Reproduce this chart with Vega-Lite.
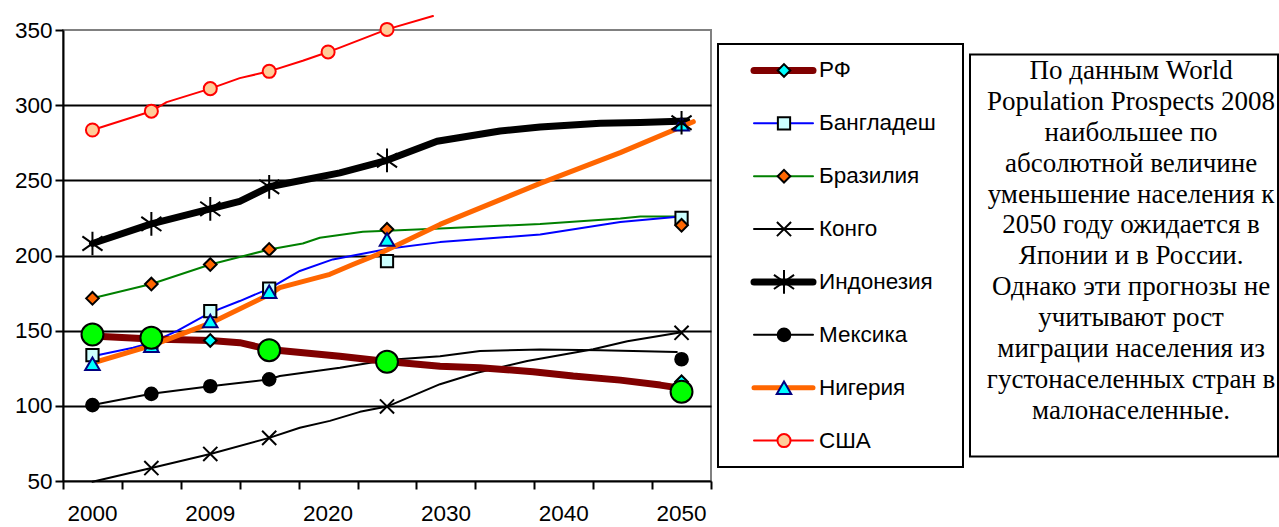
{
  "$schema": "https://vega.github.io/schema/vega-lite/v6.json",
  "background": "white",
  "padding": {"left": 13, "top": 14, "right": 0, "bottom": 0},
  "datasets": {
    "lines": [
      {"series": "Конго", "pos": 0, "value": 49.5}, {"series": "Конго", "pos": 1, "value": 58.6}, {"series": "Конго", "pos": 2, "value": 68}, {"series": "Конго", "pos": 3, "value": 78.7}, {"series": "Конго", "pos": 3.52, "value": 85.4}, {"series": "Конго", "pos": 4.03, "value": 90}, {"series": "Конго", "pos": 4.54, "value": 96}, {"series": "Конго", "pos": 5, "value": 99.5}, {"series": "Конго", "pos": 5.9, "value": 114.4}, {"series": "Конго", "pos": 6.53, "value": 122}, {"series": "Конго", "pos": 7.38, "value": 129.8}, {"series": "Конго", "pos": 8.5, "value": 137.6}, {"series": "Конго", "pos": 9.08, "value": 143}, {"series": "Конго", "pos": 10, "value": 149},
      {"series": "Мексика", "pos": 0, "value": 100.5}, {"series": "Мексика", "pos": 1, "value": 108}, {"series": "Мексика", "pos": 2, "value": 113}, {"series": "Мексика", "pos": 3, "value": 117.6}, {"series": "Мексика", "pos": 3.18, "value": 119.8}, {"series": "Мексика", "pos": 4.2, "value": 125.3}, {"series": "Мексика", "pos": 5, "value": 130.5}, {"series": "Мексика", "pos": 5.9, "value": 133}, {"series": "Мексика", "pos": 6.58, "value": 136.4}, {"series": "Мексика", "pos": 7.6, "value": 137.5}, {"series": "Мексика", "pos": 8.62, "value": 136.9}, {"series": "Мексика", "pos": 9.92, "value": 135.8},
      {"series": "Бразилия", "pos": 0, "value": 171.5}, {"series": "Бразилия", "pos": 1, "value": 181}, {"series": "Бразилия", "pos": 2, "value": 194}, {"series": "Бразилия", "pos": 3, "value": 204}, {"series": "Бразилия", "pos": 3.57, "value": 208}, {"series": "Бразилия", "pos": 3.86, "value": 211.8}, {"series": "Бразилия", "pos": 4.59, "value": 215.8}, {"series": "Бразилия", "pos": 5, "value": 216.5}, {"series": "Бразилия", "pos": 5.9, "value": 218}, {"series": "Бразилия", "pos": 7.6, "value": 221}, {"series": "Бразилия", "pos": 8.96, "value": 224.6}, {"series": "Бразилия", "pos": 9.3, "value": 226}, {"series": "Бразилия", "pos": 10.03, "value": 226},
      {"series": "Бангладеш", "pos": 0, "value": 133}, {"series": "Бангладеш", "pos": 0.69, "value": 138.6}, {"series": "Бангладеш", "pos": 1, "value": 142}, {"series": "Бангладеш", "pos": 1.43, "value": 149.7}, {"series": "Бангладеш", "pos": 2, "value": 162}, {"series": "Бангладеш", "pos": 2.5, "value": 169.7}, {"series": "Бангладеш", "pos": 3, "value": 178}, {"series": "Бангладеш", "pos": 3.52, "value": 189.7}, {"series": "Бангладеш", "pos": 4.08, "value": 197.4}, {"series": "Бангладеш", "pos": 4.54, "value": 200.8}, {"series": "Бангладеш", "pos": 5.05, "value": 204.7}, {"series": "Бангладеш", "pos": 5.9, "value": 208.9}, {"series": "Бангладеш", "pos": 7.6, "value": 214}, {"series": "Бангладеш", "pos": 8.96, "value": 222.3}, {"series": "Бангладеш", "pos": 9.89, "value": 225.6}, {"series": "Бангладеш", "pos": 10.03, "value": 225.8},
      {"series": "США", "pos": 0, "value": 283.5}, {"series": "США", "pos": 1, "value": 296}, {"series": "США", "pos": 1.26, "value": 302}, {"series": "США", "pos": 2, "value": 311}, {"series": "США", "pos": 2.5, "value": 318}, {"series": "США", "pos": 3, "value": 322.5}, {"series": "США", "pos": 3.57, "value": 329.5}, {"series": "США", "pos": 4, "value": 335.4}, {"series": "США", "pos": 4.2, "value": 338.3}, {"series": "США", "pos": 5, "value": 350.4}, {"series": "США", "pos": 5.78, "value": 359.3},
      {"series": "Индонезия", "pos": 0, "value": 208}, {"series": "Индонезия", "pos": 1, "value": 221}, {"series": "Индонезия", "pos": 2, "value": 231}, {"series": "Индонезия", "pos": 2.5, "value": 236}, {"series": "Индонезия", "pos": 3, "value": 245.7}, {"series": "Индонезия", "pos": 4.2, "value": 255}, {"series": "Индонезия", "pos": 5, "value": 263.3}, {"series": "Индонезия", "pos": 5.85, "value": 276}, {"series": "Индонезия", "pos": 6.92, "value": 282.8}, {"series": "Индонезия", "pos": 7.6, "value": 285.5}, {"series": "Индонезия", "pos": 8.62, "value": 288}, {"series": "Индонезия", "pos": 9.3, "value": 288.5}, {"series": "Индонезия", "pos": 10.09, "value": 289.5},
      {"series": "РФ", "pos": 0, "value": 146.5}, {"series": "РФ", "pos": 1, "value": 144.4}, {"series": "РФ", "pos": 2, "value": 143.5}, {"series": "РФ", "pos": 2.5, "value": 142}, {"series": "РФ", "pos": 3, "value": 137.5}, {"series": "РФ", "pos": 4.2, "value": 133}, {"series": "РФ", "pos": 5, "value": 129.5}, {"series": "РФ", "pos": 5.9, "value": 126.4}, {"series": "РФ", "pos": 6.58, "value": 125.3}, {"series": "РФ", "pos": 7.48, "value": 122.7}, {"series": "РФ", "pos": 8.16, "value": 119.8}, {"series": "РФ", "pos": 8.96, "value": 117.1}, {"series": "РФ", "pos": 9.64, "value": 113.8}, {"series": "РФ", "pos": 10, "value": 111.6},
      {"series": "Нигерия", "pos": 0, "value": 128.5}, {"series": "Нигерия", "pos": 1, "value": 140}, {"series": "Нигерия", "pos": 2, "value": 155}, {"series": "Нигерия", "pos": 3, "value": 174}, {"series": "Нигерия", "pos": 3.18, "value": 178.6}, {"series": "Нигерия", "pos": 4.03, "value": 187.5}, {"series": "Нигерия", "pos": 4.42, "value": 194}, {"series": "Нигерия", "pos": 4.83, "value": 200.5}, {"series": "Нигерия", "pos": 5.9, "value": 220.7}, {"series": "Нигерия", "pos": 7.6, "value": 248}, {"series": "Нигерия", "pos": 8.96, "value": 268.4}, {"series": "Нигерия", "pos": 10.2, "value": 289}
    ],
    "markers": [
      {"series": "США", "pos": 0, "value": 283.5}, {"series": "США", "pos": 1, "value": 296}, {"series": "США", "pos": 2, "value": 311}, {"series": "США", "pos": 3, "value": 322.5}, {"series": "США", "pos": 4, "value": 335.4}, {"series": "США", "pos": 5, "value": 350.4},
      {"series": "Бангладеш", "pos": 0, "value": 133.8}, {"series": "Бангладеш", "pos": 1, "value": 142}, {"series": "Бангладеш", "pos": 2, "value": 163}, {"series": "Бангладеш", "pos": 3, "value": 178}, {"series": "Бангладеш", "pos": 5, "value": 196.3}, {"series": "Бангладеш", "pos": 10, "value": 225.1},
      {"series": "Бразилия", "pos": 0, "value": 171.5}, {"series": "Бразилия", "pos": 1, "value": 181}, {"series": "Бразилия", "pos": 2, "value": 194}, {"series": "Бразилия", "pos": 3, "value": 204}, {"series": "Бразилия", "pos": 5, "value": 217.4}, {"series": "Бразилия", "pos": 10, "value": 220.1},
      {"series": "Конго", "pos": 1, "value": 58.6}, {"series": "Конго", "pos": 2, "value": 68}, {"series": "Конго", "pos": 3, "value": 78.7}, {"series": "Конго", "pos": 5, "value": 99.6}, {"series": "Конго", "pos": 10, "value": 148.6},
      {"series": "Мексика", "pos": 0, "value": 100.5}, {"series": "Мексика", "pos": 1, "value": 108}, {"series": "Мексика", "pos": 2, "value": 113}, {"series": "Мексика", "pos": 3, "value": 117.6}, {"series": "Мексика", "pos": 5, "value": 130}, {"series": "Мексика", "pos": 10, "value": 131},
      {"series": "РФ", "pos": 0, "value": 146.5}, {"series": "РФ", "pos": 1, "value": 144.4}, {"series": "РФ", "pos": 2, "value": 143.5}, {"series": "РФ", "pos": 3, "value": 137}, {"series": "РФ", "pos": 5, "value": 129.5}, {"series": "РФ", "pos": 10, "value": 116},
      {"series": "Нигерия", "pos": 0, "value": 128}, {"series": "Нигерия", "pos": 1, "value": 140}, {"series": "Нигерия", "pos": 2, "value": 156.4}, {"series": "Нигерия", "pos": 3, "value": 175.9}, {"series": "Нигерия", "pos": 5, "value": 210.7}, {"series": "Нигерия", "pos": 10, "value": 287.3},
      {"series": "Индонезия", "pos": 0, "value": 208}, {"series": "Индонезия", "pos": 1, "value": 221}, {"series": "Индонезия", "pos": 2, "value": 231}, {"series": "Индонезия", "pos": 3, "value": 245.7}, {"series": "Индонезия", "pos": 5, "value": 263.3}, {"series": "Индонезия", "pos": 10, "value": 288.3},
      {"series": "РФ*", "pos": 0, "value": 147.5}, {"series": "РФ*", "pos": 1, "value": 145.3}, {"series": "РФ*", "pos": 3, "value": 137}, {"series": "РФ*", "pos": 5, "value": 129.3}, {"series": "РФ*", "pos": 10, "value": 109.4}
    ],
    "years": [
      {"pos": 0, "year": "2000"}, {"pos": 2, "year": "2009"}, {"pos": 4, "year": "2020"}, {"pos": 6, "year": "2030"}, {"pos": 8, "year": "2040"}, {"pos": 10, "year": "2050"}
    ],
    "legend": [
      {"series": "РФ"}, {"series": "Бангладеш"}, {"series": "Бразилия"}, {"series": "Конго"}, {"series": "Индонезия"}, {"series": "Мексика"}, {"series": "Нигерия"}, {"series": "США"}
    ],
    "note": [
      {"text": "По данным World\nPopulation Prospects 2008\nнаибольшее по\nабсолютной величине\nуменьшение населения к\n2050 году ожидается в\nЯпонии и в России.\nОднако эти прогнозы не\nучитывают рост\nмиграции населения из\nгустонаселенных стран в\nмалонаселенные."}
    ]
  },
  "spacing": 7,
  "bounds": "flush",
  "center": true,
  "resolve": {"scale": {"x": "independent", "y": "independent"}},
  "hconcat": [
    {
      "width": 648,
      "height": 451,
      "view": {"stroke": "#808080", "strokeWidth": 2},
      "layer": [
        {
          "data": {"name": "lines"},
          "mark": {"type": "line", "strokeJoin": "round", "strokeCap": "round"},
          "encoding": {
            "x": {"field": "pos", "type": "quantitative",
              "scale": {"domain": [-0.5, 10.5], "nice": false, "zero": false},
              "axis": {
                "values": [-0.5, 0.5, 1.5, 2.5, 3.5, 4.5, 5.5, 6.5, 7.5, 8.5, 9.5, 10.5],
                "labels": false,
                "tickSize": 8, "tickWidth": 2, "tickColor": "#000000",
                "domainColor": "#000000", "domainWidth": 2,
                "grid": false, "title": null
              }
            },
            "y": {"field": "value", "type": "quantitative",
              "scale": {"domain": [50, 350], "nice": false, "zero": false},
              "axis": {
                "values": [50, 100, 150, 200, 250, 300, 350],
                "grid": true, "gridColor": "#000000", "gridWidth": 2,
                "gridOpacity": {"condition": {"test": "datum.value === 50 || datum.value === 350", "value": 0}, "value": 1},
                "tickSize": 8, "tickWidth": 2, "tickColor": "#000000",
                "domainColor": "#000000", "domainWidth": 2,
                "labelFont": "Liberation Sans", "labelFontSize": 22.5, "labelColor": "#000000", "labelPadding": 3,
                "labelFlush": false, "labelOverlap": false, "title": null
              }
            },
            "color": {"field": "series", "type": "nominal", "legend": null,
              "scale": {"domain": ["РФ", "Бангладеш", "Бразилия", "Конго", "Индонезия", "Мексика", "Нигерия", "США", "РФ*"],
                "range": ["#800000", "#0000ff", "#008000", "#000000", "#000000", "#000000", "#ff6600", "#ff0000", "#000000"]}},
            "strokeWidth": {"field": "series", "type": "nominal", "legend": null,
              "scale": {"type": "ordinal", "domain": ["РФ", "Бангладеш", "Бразилия", "Конго", "Индонезия", "Мексика", "Нигерия", "США", "РФ*"],
                "range": [7, 2, 2, 2, 7, 2, 5, 2, 2]}}
          }
        },
        {
          "data": {"name": "markers"},
          "mark": {"type": "point", "filled": true, "strokeWidth": 2, "opacity": 1},
          "encoding": {
            "x": {"field": "pos", "type": "quantitative"},
            "y": {"field": "value", "type": "quantitative"},
            "shape": {"field": "series", "type": "nominal", "legend": null,
              "scale": {"domain": ["РФ", "Бангладеш", "Бразилия", "Конго", "Индонезия", "Мексика", "Нигерия", "США", "РФ*"],
                "range": ["diamond", "square", "diamond", "M-1,-1L1,1M-1,1L1,-1", "M0,-1L0,1M-0.85,-0.6L0.85,0.6M-0.85,0.6L0.85,-0.6", "circle", "triangle-up", "circle", "circle"]}},
            "fill": {"field": "series", "type": "nominal", "legend": null,
              "scale": {"domain": ["РФ", "Бангладеш", "Бразилия", "Конго", "Индонезия", "Мексика", "Нигерия", "США", "РФ*"],
                "range": ["#00ffff", "#ccffff", "#ff6600", "transparent", "transparent", "#000000", "#00ffff", "#ffcc99", "#00ff00"]}},
            "stroke": {"field": "series", "type": "nominal", "legend": null,
              "scale": {"domain": ["РФ", "Бангладеш", "Бразилия", "Конго", "Индонезия", "Мексика", "Нигерия", "США", "РФ*"],
                "range": ["#000000", "#000000", "#000000", "#000000", "#000000", "#000000", "#000080", "#ff0000", "#000000"]}},
            "size": {"field": "series", "type": "nominal", "legend": null,
              "scale": {"type": "ordinal", "domain": ["РФ", "Бангладеш", "Бразилия", "Конго", "Индонезия", "Мексика", "Нигерия", "США", "РФ*"],
                "range": [160, 150, 160, 200, 560, 160, 210, 170, 480]}}
          }
        },
        {
          "data": {"name": "years"},
          "mark": {"type": "text", "baseline": "top", "align": "center", "font": "Liberation Sans", "fontSize": 22.5, "color": "#000000", "dy": 22},
          "encoding": {
            "x": {"field": "pos", "type": "quantitative"},
            "y": {"datum": 50, "type": "quantitative"},
            "text": {"field": "year", "type": "nominal"}
          }
        }
      ]
    },
    {
      "width": 245,
      "height": 423,
      "view": {"stroke": "#000000", "strokeWidth": 2},
      "data": {"name": "legend"},
      "encoding": {
        "y": {"field": "series", "type": "nominal", "axis": null,
          "scale": {"type": "point", "padding": 0.5, "domain": ["РФ", "Бангладеш", "Бразилия", "Конго", "Индонезия", "Мексика", "Нигерия", "США"]}}
      },
      "layer": [
        {
          "mark": {"type": "rule", "strokeCap": "round"},
          "encoding": {
            "x": {"datum": 36, "type": "quantitative", "scale": {"domain": [0, 245], "nice": false, "zero": false}, "axis": null},
            "x2": {"datum": 95},
            "color": {"field": "series", "type": "nominal", "legend": null,
              "scale": {"domain": ["РФ", "Бангладеш", "Бразилия", "Конго", "Индонезия", "Мексика", "Нигерия", "США", "РФ*"],
                "range": ["#800000", "#0000ff", "#008000", "#000000", "#000000", "#000000", "#ff6600", "#ff0000", "#000000"]}},
            "strokeWidth": {"field": "series", "type": "nominal", "legend": null,
              "scale": {"type": "ordinal", "domain": ["РФ", "Бангладеш", "Бразилия", "Конго", "Индонезия", "Мексика", "Нигерия", "США", "РФ*"],
                "range": [7, 2, 2, 2, 7, 2, 5, 2, 2]}}
          }
        },
        {
          "mark": {"type": "point", "filled": true, "strokeWidth": 2, "opacity": 1},
          "encoding": {
            "x": {"datum": 66, "type": "quantitative"},
            "shape": {"field": "series", "type": "nominal", "legend": null,
              "scale": {"domain": ["РФ", "Бангладеш", "Бразилия", "Конго", "Индонезия", "Мексика", "Нигерия", "США", "РФ*"],
                "range": ["diamond", "square", "diamond", "M-1,-1L1,1M-1,1L1,-1", "M0,-1L0,1M-0.85,-0.6L0.85,0.6M-0.85,0.6L0.85,-0.6", "circle", "triangle-up", "circle", "circle"]}},
            "fill": {"field": "series", "type": "nominal", "legend": null,
              "scale": {"domain": ["РФ", "Бангладеш", "Бразилия", "Конго", "Индонезия", "Мексика", "Нигерия", "США", "РФ*"],
                "range": ["#00ffff", "#ccffff", "#ff6600", "transparent", "transparent", "#000000", "#00ffff", "#ffcc99", "#00ff00"]}},
            "stroke": {"field": "series", "type": "nominal", "legend": null,
              "scale": {"domain": ["РФ", "Бангладеш", "Бразилия", "Конго", "Индонезия", "Мексика", "Нигерия", "США", "РФ*"],
                "range": ["#000000", "#000000", "#000000", "#000000", "#000000", "#000000", "#000080", "#ff0000", "#000000"]}},
            "size": {"field": "series", "type": "nominal", "legend": null,
              "scale": {"type": "ordinal", "domain": ["РФ", "Бангладеш", "Бразилия", "Конго", "Индонезия", "Мексика", "Нигерия", "США", "РФ*"],
                "range": [160, 150, 160, 200, 360, 160, 210, 170, 480]}}
          }
        },
        {
          "mark": {"type": "text", "align": "left", "baseline": "middle", "font": "Liberation Sans", "fontSize": 22.5, "color": "#000000"},
          "encoding": {
            "x": {"datum": 101, "type": "quantitative"},
            "text": {"field": "series", "type": "nominal"}
          }
        }
      ]
    },
    {
      "width": 308,
      "height": 402,
      "view": {"stroke": "#000000", "strokeWidth": 2},
      "data": {"name": "note"},
      "mark": {"type": "text", "font": "Liberation Serif", "fontSize": 27, "lineHeight": 30.9, "align": "center", "baseline": "middle", "lineBreak": "\n", "color": "#000000"},
      "encoding": {
        "x": {"datum": 0.523, "type": "quantitative", "scale": {"domain": [0, 1], "nice": false, "zero": false}, "axis": null},
        "y": {"datum": 0.959, "type": "quantitative", "scale": {"domain": [0, 1], "nice": false, "zero": false}, "axis": null},
        "text": {"field": "text", "type": "nominal"}
      }
    }
  ],
  "config": {
    "view": {"stroke": null},
    "font": "Liberation Sans"
  }
}
